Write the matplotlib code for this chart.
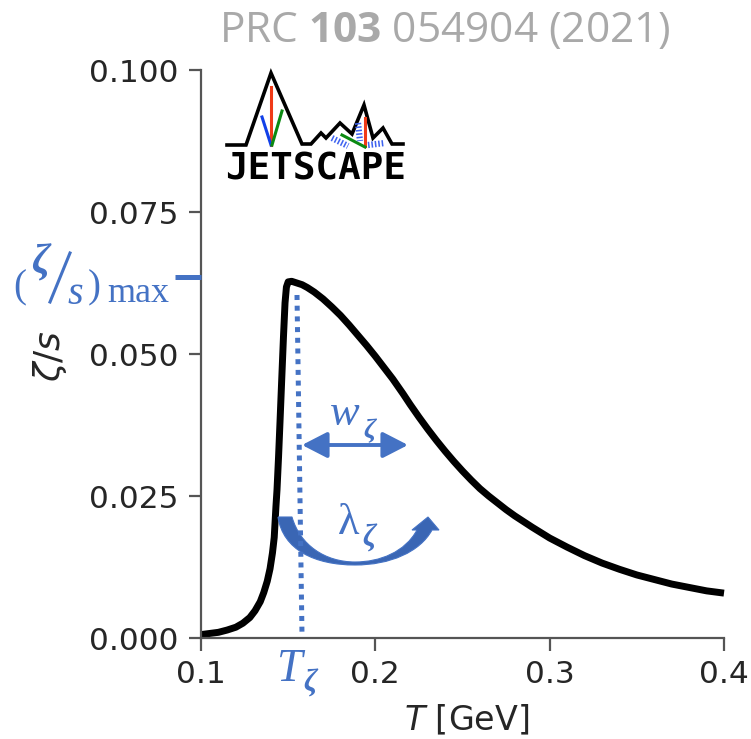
import matplotlib
matplotlib.use('Agg')
import matplotlib.pyplot as plt
from matplotlib.patches import PathPatch
from matplotlib.path import Path

plt.rcParams['mathtext.fontset'] = 'custom'
plt.rcParams['mathtext.rm'] = 'DejaVu Sans'
plt.rcParams['mathtext.it'] = 'DejaVu Sans:italic'
plt.rcParams['mathtext.bf'] = 'Open Sans:bold'

# curve
temp = [0.100, 0.105, 0.110, 0.115, 0.120, 0.124, 0.128, 0.131, 0.134, 0.136, 0.138, 0.1396, 0.141, 0.142,
        0.143, 0.1436, 0.1445, 0.1453, 0.1463, 0.1473, 0.1482, 0.149, 0.150, 0.152, 0.155, 0.158, 0.161,
        0.165, 0.170, 0.175, 0.180, 0.185, 0.190, 0.195, 0.200, 0.205, 0.210, 0.2159, 0.220, 0.225, 0.230,
        0.235, 0.240, 0.245, 0.250, 0.255, 0.260, 0.265, 0.270, 0.275, 0.280, 0.285, 0.290, 0.300, 0.310,
        0.320, 0.330, 0.340, 0.350, 0.360, 0.370, 0.380, 0.390, 0.400]
zeta = [0.0006, 0.0008, 0.0010, 0.0014, 0.0019, 0.0026, 0.0036, 0.0048, 0.0064, 0.0080, 0.0100, 0.0122, 0.0150, 0.0177,
        0.0232, 0.0261, 0.0320, 0.0379, 0.0455, 0.0530, 0.0590, 0.0618, 0.0627, 0.0628, 0.0625, 0.0622, 0.0617,
        0.0609, 0.0597, 0.0583, 0.0568, 0.0551, 0.0533, 0.0515, 0.0496, 0.0476, 0.0456, 0.0430, 0.0411, 0.0389, 0.0368,
        0.0348, 0.0329, 0.0311, 0.0294, 0.0278, 0.0263, 0.0250, 0.0238, 0.0226, 0.0215, 0.0205, 0.0195, 0.0176, 0.0160,
        0.0145, 0.0132, 0.0121, 0.0111, 0.0103, 0.0095, 0.0089, 0.0083, 0.0079]
xticks = [0.1, 0.2, 0.3, 0.4]
yticks = [0.0, 0.025, 0.05, 0.075, 0.1]
ytick_labels = ['0.000', '0.025', '0.050', '0.075', '0.100']

W, H = 751, 739
BLUE = '#4472C4'
DARK_BLUE = '#3A66B4'
GREY = '#555555'
TXT = '#262626'
SERIF = 'Liberation Serif'

fig = plt.figure(figsize=(W / 100, H / 100), dpi=100)
ax = fig.add_axes([201 / W, 1 - 638 / H, (724 - 201) / W, (638 - 70) / H])
ax.plot(temp, zeta, color='black', lw=5, solid_capstyle='butt', solid_joinstyle='round', clip_on=False)
ax.set_xlim(0.1, 0.4)
ax.set_ylim(0, 0.1)
ax.set_xticks(xticks)
ax.set_yticks(yticks)
ax.set_yticklabels(ytick_labels)
ax.tick_params(labelsize=22.5, length=9, width=1.6, color=GREY, labelcolor=TXT, pad=7)
for side in ['top', 'right']:
    ax.spines[side].set_visible(False)
for side in ['left', 'bottom']:
    ax.spines[side].set_linewidth(1.6)
    ax.spines[side].set_color(GREY)

# overlay in picture pixels for the pasted-on annotations
ov = fig.add_axes([0, 0, 1, 1], facecolor='none')
ov.set_xlim(0, W)
ov.set_ylim(H, 0)
ov.axis('off')

ov.text(445, 31, r'PRC $\mathbf{103}$ 054904 (2021)', color='#A9A9A9', fontsize=30.5, family='Open Sans',
        ha='center', va='center')
ov.text(467, 720, r'$T$ [GeV]', color=TXT, fontsize=24, ha='center', va='center')
ov.text(50, 356, r'$\zeta/s$', color=TXT, fontsize=26, rotation=90, ha='center', va='center')

# peak marker and its label
ov.plot([175, 201], [277, 277], color=BLUE, lw=3.6, solid_capstyle='butt')
ov.text(20, 288, '(', color=BLUE, fontsize=28, family=SERIF, ha='center', va='center')
ov.text(40, 263, 'ζ', color=BLUE, fontsize=30, family=SERIF, style='italic', weight='bold', ha='center', va='center')
ov.plot([70, 50], [253, 302], color=BLUE, lw=2.2)
ov.text(75, 295, 's', color=BLUE, fontsize=29, family=SERIF, style='italic', ha='center', va='center')
ov.text(94, 288, ')', color=BLUE, fontsize=28, family=SERIF, ha='center', va='center')
ov.text(138, 294, 'max', color=BLUE, fontsize=26, family=SERIF, ha='center', va='center')

# T_zeta dotted line and label
ov.plot([297, 302], [295, 635], color=BLUE, lw=3.6, linestyle=(0, (1, 1.14)))
ov.text(290, 670, 'T', color=BLUE, fontsize=33, family=SERIF, style='italic', ha='center', va='center')
ov.text(310, 684, 'ζ', color=BLUE, fontsize=22, family=SERIF, style='italic', weight='bold', ha='center', va='center')

# width arrow
ov.annotate('', xy=(302, 445), xytext=(408, 445),
            arrowprops=dict(arrowstyle='<|-|>,head_length=0.7,head_width=0.36', color=BLUE, lw=2.8,
                            mutation_scale=22, shrinkA=0, shrinkB=0))
ov.text(345, 414, 'w', color=BLUE, fontsize=32, family=SERIF, style='italic', ha='center', va='center')
ov.text(369, 431, 'ζ', color=BLUE, fontsize=20, family=SERIF, style='italic', weight='bold', ha='center', va='center')

# curved lambda arrow
crescent = [(278, 517), (292, 517), (300, 545), (325, 562), (355, 562), (380, 562), (405, 552), (417, 530),
            (412, 530), (428, 517), (439, 530), (432, 530), (420, 552), (390, 565), (355, 565),
            (315, 565), (283, 550), (278, 517)]
codes = [Path.MOVETO, Path.LINETO, Path.CURVE4, Path.CURVE4, Path.CURVE4, Path.CURVE4, Path.CURVE4, Path.CURVE4,
         Path.LINETO, Path.LINETO, Path.LINETO, Path.LINETO, Path.CURVE4, Path.CURVE4, Path.CURVE4,
         Path.CURVE4, Path.CURVE4, Path.CURVE4]
ov.add_patch(PathPatch(Path(crescent, codes), facecolor=DARK_BLUE, edgecolor=BLUE, lw=0.8))
ov.text(349, 523, 'λ', color=BLUE, fontsize=32, family=SERIF, ha='center', va='center')
ov.text(369, 539, 'ζ', color=BLUE, fontsize=22, family=SERIF, style='italic', weight='bold', ha='center', va='center')

# logo
ridge_x = [227, 246, 271, 302, 311, 321, 326, 340, 352, 364, 373, 383, 392, 403]
ridge_y = [145, 145, 73, 144, 144, 133, 138, 123, 134, 105, 138, 128, 144, 144]
ov.plot(ridge_x, ridge_y, color='black', lw=2.6, solid_joinstyle='miter')
ov.plot([271, 271], [87, 145], color='#F03A17', lw=2.2)
ov.plot([262, 271], [117, 145], color='#1240E8', lw=2.2)
ov.plot([282, 272], [111, 145], color='#0B8A12', lw=2.2)
ov.plot([365, 365], [118, 146], color='#F03A17', lw=2.2)
ov.plot([342, 365], [135, 147], color='#0B8A12', lw=2.2)
for sx, sy in [([332, 348], [138, 146]), ([358, 360], [123, 141]), ([368, 385], [145, 143])]:
    ov.plot(sx, sy, color='#3E63F0', lw=4.5, linestyle=(0, (0.25, 0.3)))
ov.text(315.5, 169, 'JETSCAPE', color='black', fontsize=27, family='DejaVu Sans Mono', weight='bold',
        ha='center', va='center')

fig.savefig('out.png', dpi=100)
